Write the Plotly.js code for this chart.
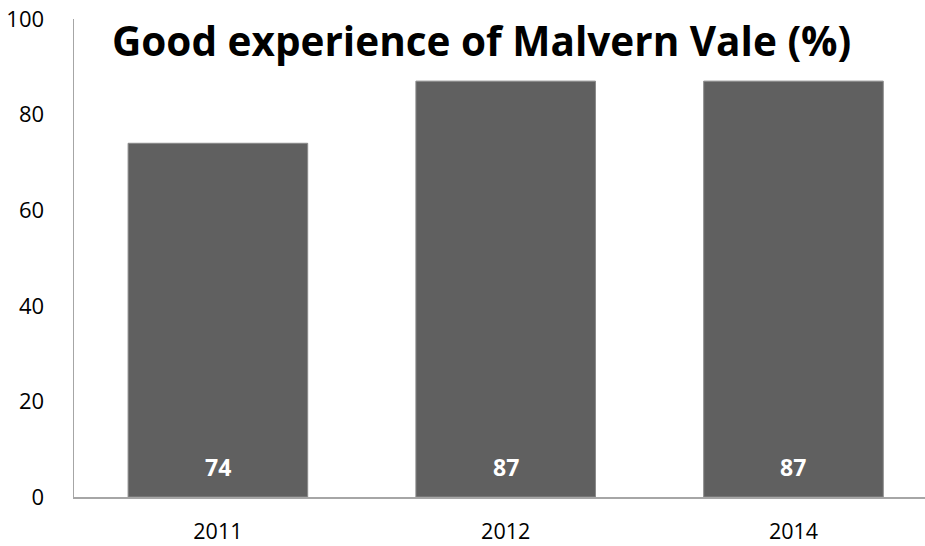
<!DOCTYPE html>
<html>
<head>
<meta charset="utf-8">
<script src="https://cdn.plot.ly/plotly-3.0.1.min.js"></script>
<style>html,body{margin:0;padding:0;background:#fff;}#chart{width:925px;height:546px;}</style>
</head>
<body>
<div id="chart"></div>
<script>
const categories = ["2011", "2012", "2014"];
const values = [74, 87, 87];
const yTicks = [0, 20, 40, 60, 80, 100];
const chartTitle = "Good experience of Malvern Vale (%)";

const trace = {
  type: "bar",
  x: categories,
  y: values,
  width: 0.624,
  marker: { color: "#606060", line: { color: "#8a8a8a", width: 1 } },
  hoverinfo: "skip"
};

const labelAnnotations = categories.map((c, i) => ({
  x: i, y: 0.0, xref: "x", yref: "paper",
  text: "<b>" + String(values[i]) + "</b>",
  showarrow: false, xanchor: "center", yanchor: "bottom", yshift: 12,
  font: { family: "Open Sans, Liberation Sans, sans-serif", size: 23, color: "#ffffff" }
}));

const layout = {
  width: 925, height: 546,
  margin: { l: 74, r: 0, t: 19, b: 49, pad: 0 },
  paper_bgcolor: "#ffffff", plot_bgcolor: "#ffffff",
  showlegend: false,
  title: {
    text: "<b>" + chartTitle + "</b>",
    x: 0.479, xanchor: "center", xref: "paper",
    y: 0.923, yanchor: "middle", yref: "container",
    font: { family: "Open Sans, sans-serif", size: 40.5, color: "#000000" }
  },
  xaxis: {
    type: "category",
    range: [-0.5, 2.457],
    showline: true, linecolor: "#a6a6a6", linewidth: 1.5,
    showgrid: false, zeroline: false, ticks: "",
    ticklabelstandoff: 15,
    tickfont: { family: "Open Sans, Liberation Sans, sans-serif", size: 21.5, color: "#000000" }
  },
  yaxis: {
    range: [0, 100],
    tickvals: yTicks,
    showline: true, linecolor: "#a6a6a6", linewidth: 1.5,
    showgrid: false, zeroline: false, ticks: "",
    ticklabelstandoff: 24,
    tickfont: { family: "Open Sans, Liberation Sans, sans-serif", size: 22, color: "#000000" }
  },
  annotations: labelAnnotations
};

Plotly.newPlot("chart", [trace], layout, { displayModeBar: false, staticPlot: true });
</script>
</body>
</html>
